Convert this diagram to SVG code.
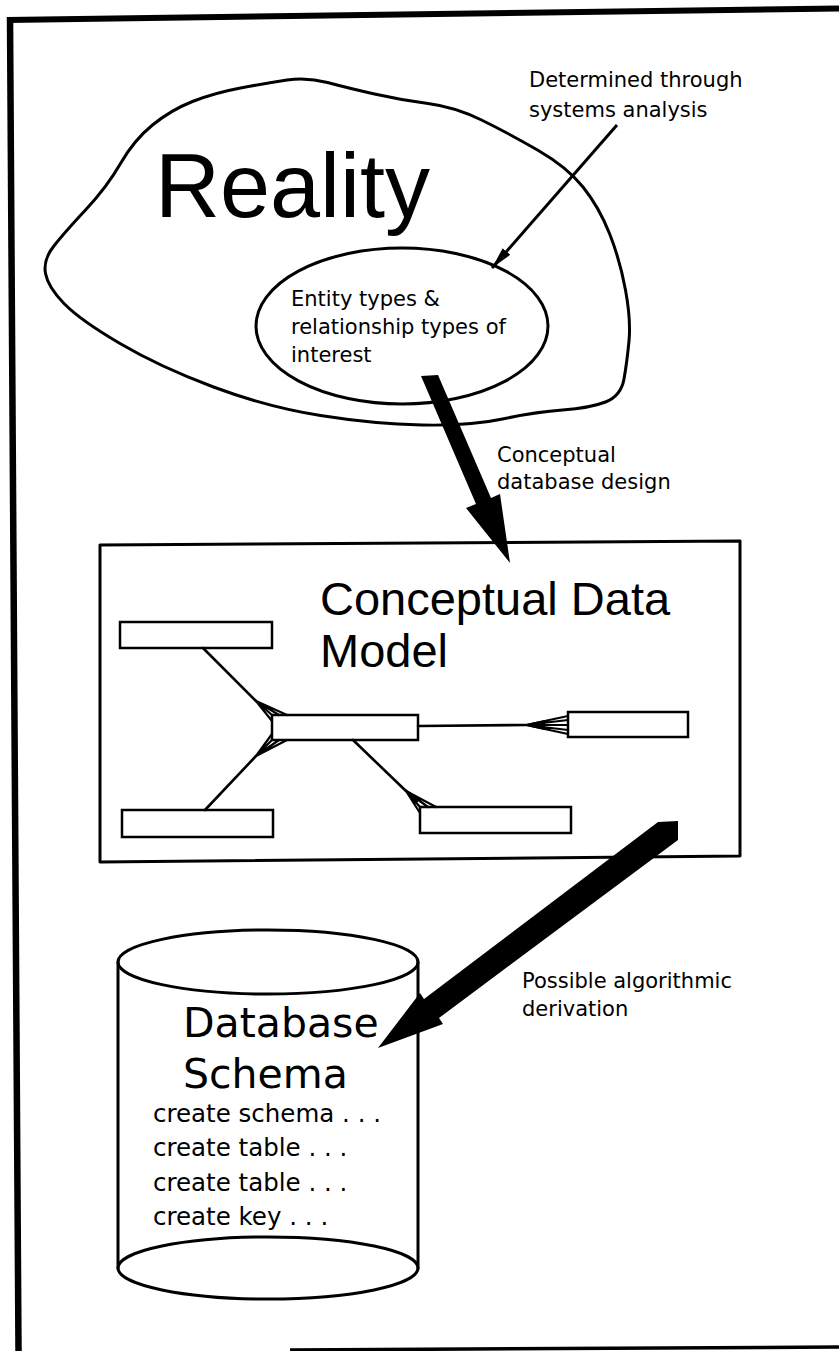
<svg xmlns="http://www.w3.org/2000/svg" width="839" height="1351" viewBox="0 0 839 1351">
<style>
  .ln{fill:none;stroke:#000;stroke-linecap:round;stroke-linejoin:round}
  .ent{fill:#fff;stroke:#000;stroke-width:2.5}
  .big{font-family:"Liberation Sans",Arial,sans-serif;fill:#000}
  .sm{font-family:"DejaVu Sans","Liberation Sans",sans-serif;font-size:21px;fill:#000}
  .db{font-family:"DejaVu Sans","Liberation Sans",sans-serif;font-size:41px;fill:#000}
  .code{font-family:"DejaVu Sans","Liberation Sans",sans-serif;font-size:24.5px;fill:#000}
  .rel{fill:none;stroke:#000;stroke-width:2.6;stroke-linecap:round}
  .fan{fill:none;stroke:#000;stroke-width:2.2;stroke-linecap:round}
  .wedge{fill:#000;stroke:none}
</style>
<defs>
  <marker id="ah" viewBox="0 0 22 10" refX="22" refY="5" markerWidth="22" markerHeight="10" markerUnits="userSpaceOnUse" orient="auto">
    <path d="M0,0 L22,5 L0,10 Z" fill="#000"/>
  </marker>
</defs>
<rect width="839" height="1351" fill="#fff"/>
<g id="frame">
  <line x1="7" y1="20" x2="839" y2="8.5" stroke="#000" stroke-width="6"/>
  <line x1="10" y1="17" x2="18.5" y2="1351" stroke="#000" stroke-width="6.5"/>
  <line x1="290" y1="1350" x2="839" y2="1347" stroke="#000" stroke-width="3.5"/>
</g>
<g id="reality">
  <path class="ln" stroke-width="3" d="M 287,80 Q 307,77 327.5,82.5 Q 348,88 374.5,94 Q 401,100 428,103.5 Q 455,107 481.5,120 Q 508,133 537.5,150 Q 567,167 583,187 Q 599,207 609.5,233.5 Q 620,260 625.5,290 Q 631,320 629,341 Q 627,362 624,379 Q 621,396 605.5,402 Q 590,408 562.5,410 Q 535,412 502.5,419 Q 470,426 422,425 Q 374,424 320.5,415.5 Q 267,407 213.5,387 Q 160,367 120,343.5 Q 80,320 64,303.5 Q 48,287 45.5,273.5 Q 43,260 53.5,246.5 Q 64,233 85.5,210 Q 107,187 120.5,163.5 Q 134,140 152.5,125 Q 171,110 192.5,101.5 Q 214,93 240.5,88 Q 267,83 287,80 Z"/>
  <text class="big" x="155" y="217" font-size="90">Reality</text>
</g>
<g id="entity-types">
  <ellipse cx="402" cy="326" rx="146" ry="78" class="ln" stroke-width="3"/>
  <text class="sm" x="291" y="306">Entity types &amp;</text>
  <text class="sm" x="291" y="334">relationship types of</text>
  <text class="sm" x="291" y="362">interest</text>
</g>
<g id="label-systems-analysis">
  <text class="sm" x="529" y="87">Determined through</text>
  <text class="sm" x="529" y="117">systems analysis</text>
</g>
<g id="label-conceptual-design">
  <text class="sm" x="497" y="462">Conceptual</text>
  <text class="sm" x="497" y="489">database design</text>
</g>
<g id="label-derivation">
  <text class="sm" x="522" y="988">Possible algorithmic</text>
  <text class="sm" x="522" y="1016">derivation</text>
</g>
<g id="conceptual-data-model">
  <path d="M100,545 L740,541 L740,856 L100,862 Z" fill="none" stroke="#000" stroke-width="3" stroke-linejoin="round"/>
  <text class="big" x="320" y="615" font-size="47">Conceptual Data</text>
  <text class="big" x="320" y="667" font-size="47">Model</text>
</g>
<g id="entity-top-left"><rect class="ent" x="120" y="622" width="152" height="26"/></g>
<g id="entity-center"><rect class="ent" x="272" y="715" width="146" height="25"/></g>
<g id="entity-right"><rect class="ent" x="568" y="712" width="120" height="25"/></g>
<g id="entity-bottom-left"><rect class="ent" x="122" y="810" width="151" height="27"/></g>
<g id="entity-bottom-middle"><rect class="ent" x="420" y="807" width="151" height="26"/></g>
<g id="database-schema">
  <path class="ln" stroke-width="3" d="M118,962 L118,1268 M418,962 L418,1268"/>
  <ellipse cx="268" cy="962" rx="150" ry="32" class="ln" stroke-width="3" fill="#fff"/>
  <ellipse cx="268" cy="1268" rx="150" ry="31" class="ln" stroke-width="3"/>
  <text class="db" x="183" y="1037">Database</text>
  <text class="db" x="183" y="1088">Schema</text>
  <text class="code" x="153" y="1122">create schema . . .</text>
  <text class="code" x="153" y="1156">create table . . .</text>
  <text class="code" x="153" y="1191">create table . . .</text>
  <text class="code" x="153" y="1225">create key . . .</text>
</g>
<g id="connectors">
  <line x1="617" y1="125" x2="492" y2="268" stroke="#000" stroke-width="3" marker-end="url(#ah)"/>
  <polygon points="421,376 438,375 491,498 500,494 510,563 466,508 476,504" fill="#000"/>
  <polygon points="658,822 678,821 678,840 439,1018 443,1024 378,1048 420,993 424,999" fill="#000"/>
  <line class="rel" x1="203" y1="648" x2="256" y2="701"/>
  <path class="fan" d="M256,701 L272,721 M256,701 L272,715 M256,701 L287,715 M256,701 L279,715"/>
  <polygon class="wedge" points="254,698 266,713 262,706"/>
  <line class="rel" x1="205" y1="810" x2="256" y2="756"/>
  <path class="fan" d="M256,756 L272,734 M256,756 L272,740 M256,756 L287,740 M256,756 L279,740"/>
  <polygon class="wedge" points="254,759 266,744 262,751"/>
  <line class="rel" x1="418" y1="726" x2="526" y2="725"/>
  <path class="fan" d="M526,725 L568,716 M526,725 L568,725 M526,725 L568,734 M526,725 L568,720 M526,725 L568,730"/>
  <polygon class="wedge" points="522,725 545,720 545,730"/>
  <line class="rel" x1="353" y1="740" x2="406" y2="791"/>
  <path class="fan" d="M406,791 L420,813 M406,791 L420,807 M406,791 L436,807 M406,791 L428,807"/>
  <polygon class="wedge" points="404,788 416,804 420,799"/>
</g>
</svg>
